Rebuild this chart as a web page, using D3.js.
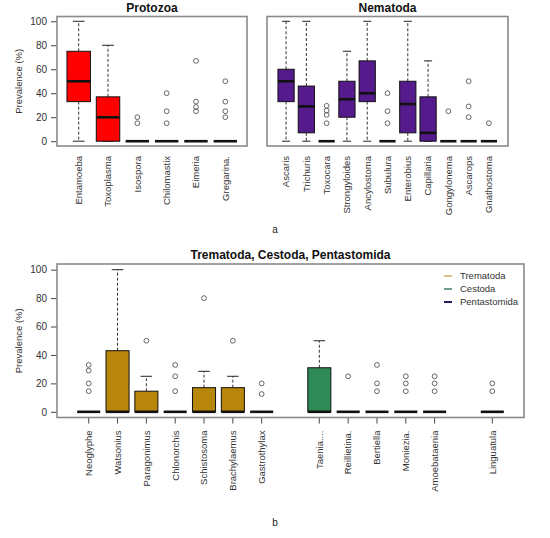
<!DOCTYPE html>
<html>
<head>
<meta charset="utf-8">
<script src="https://cdn.jsdelivr.net/npm/d3@7"></script>
<style>
  body { margin: 0; background: #fff; }
  text { font-family: "Liberation Sans", Arial, sans-serif; }
</style>
</head>
<body>
<svg id="chart" width="550" height="538"></svg>
<script>
// Box stats are [lower whisker, Q1, median, Q3, upper whisker]
const protozoaNames = ["Entamoeba", "Toxoplasma", "Isospora", "Chilomastix", "Eimeria", "Gregarina."];
const protozoaStats = [[0, 33, 50, 75, 100], [0, 0, 20, 37, 80], [0, 0, 0, 0, 0], [0, 0, 0, 0, 0], [0, 0, 0, 0, 0], [0, 0, 0, 0, 0]];
const protozoaOut = [[], [], [15, 20], [15, 25, 40], [25, 28.5, 33, 67], [20, 25, 33, 50]];

const nematodaNames = ["Ascaris", "Trichuris", "Toxocara", "Strongyloides", "Ancylostoma", "Subulura", "Enterobius", "Capillaria", "Gongylonema", "Ascarops", "Gnathostoma"];
const nematodaStats = [[0, 33, 50, 60, 100], [0, 7, 29, 46, 100], [0, 0, 0, 0, 0], [0, 20, 35, 50, 75], [0, 33, 40, 67, 100], [0, 0, 0, 0, 0], [0, 7, 31, 50, 100], [0, 0, 7, 37, 67], [0, 0, 0, 0, 0], [0, 0, 0, 0, 0], [0, 0, 0, 0, 0]];
const nematodaOut = [[], [], [15, 22, 25.5, 29.5], [], [], [15, 25, 40], [], [], [25], [20, 29, 50], [15]];

const trematodaNames = ["Neoglyphe", "Watsonius", "Paragonimus", "Chlonorchis", "Schistosoma", "Brachylaemus", "Gastrothylax"];
const trematodaStats = [[0, 0, 0, 0, 0], [0, 0, 0, 43, 100], [0, 0, 0, 14.5, 25], [0, 0, 0, 0, 0], [0, 0, 0, 17, 28.5], [0, 0, 0, 17, 25], [0, 0, 0, 0, 0]];
const trematodaOut = [[14.5, 20, 29, 33], [], [50], [14.5, 25, 33], [80], [50], [12.5, 20]];

const cestodaNames = ["Taenia....", "Reillietina.", "Bertiella", "Moniezia.", "Amoebataenia"];
const cestodaStats = [[0, 0, 0, 31, 50], [0, 0, 0, 0, 0], [0, 0, 0, 0, 0], [0, 0, 0, 0, 0], [0, 0, 0, 0, 0]];
const cestodaOut = [[], [25], [14.5, 20, 33], [14.5, 20, 25], [14.5, 20, 25]];

const pentaNames = ["Linguatula"];
const pentaStats = [[0, 0, 0, 0, 0]];
const pentaOut = [[14.5, 20]];

const yTicks = [0, 20, 40, 60, 80, 100];
const legendLabels = ["Trematoda", "Cestoda", "Pentastomida"];
const legendColors = ["#d8bf8e", "#6f9e86", "#1c1c5c"];

const svg = d3.select("#chart");

function drawPanel(p) {
  const n = p.slots;
  const x = d3.scaleLinear().domain([0.5 - 0.04 * n, n + 0.5 + 0.04 * n]).range([p.left, p.right]);
  const y = d3.scaleLinear().domain([-4, 104]).range([p.bottom, p.top]);
  const g = svg.append("g");
  const bw = (x(1) - x(0)) * 0.8;

  // title
  g.append("text")
    .attr("x", (p.left + p.right) / 2).attr("y", p.titleY)
    .attr("text-anchor", "middle").attr("font-weight", "bold")
    .attr("font-size", "12px").attr("fill", "#111")
    .text(p.title);

  // y axis
  if (p.yAxis) {
    const ax = g.append("g")
      .attr("transform", `translate(${p.left},0)`)
      .call(d3.axisLeft(y).tickValues(yTicks).tickSize(6).tickPadding(4));
    ax.select(".domain").remove();
    ax.selectAll("line").attr("stroke", "#444");
    ax.selectAll("text").attr("font-size", "10px").attr("fill", "#333")
      .style("font-family", "'Liberation Sans', Arial, sans-serif");
    g.append("text")
      .attr("transform", `translate(22,${(p.top + p.bottom) / 2}) rotate(-90)`)
      .attr("text-anchor", "middle").attr("font-size", "9.5px").attr("fill", "#333")
      .text("Prevalence (%)");
  }

  p.items.forEach(d => {
    const cx = x(d.pos);
    const [lo, q1, med, q3, hi] = d.stats;
    // whiskers
    g.append("line").attr("x1", cx).attr("x2", cx).attr("y1", y(q3)).attr("y2", y(hi))
      .attr("stroke", "#333").attr("stroke-dasharray", "3,2");
    g.append("line").attr("x1", cx).attr("x2", cx).attr("y1", y(q1)).attr("y2", y(lo))
      .attr("stroke", "#333").attr("stroke-dasharray", "3,2");
    [lo, hi].forEach(v => {
      g.append("line").attr("x1", cx - bw / 4).attr("x2", cx + bw / 4)
        .attr("y1", y(v)).attr("y2", y(v)).attr("stroke", "#222");
    });
    // box
    g.append("rect").attr("x", cx - bw / 2).attr("width", bw)
      .attr("y", y(q3)).attr("height", Math.max(0, y(q1) - y(q3)))
      .attr("fill", d.color).attr("stroke", "#111").attr("stroke-width", 1);
    // median
    g.append("line").attr("x1", cx - bw / 2).attr("x2", cx + bw / 2)
      .attr("y1", y(med)).attr("y2", y(med)).attr("stroke", "#111").attr("stroke-width", 2.6);
    // outliers
    g.selectAll(null).data(d.out).enter().append("circle")
      .attr("cx", cx).attr("cy", v => y(v)).attr("r", 2.4)
      .attr("fill", "none").attr("stroke", "#555").attr("stroke-width", 0.9);
    // x label
    g.append("text")
      .attr("transform", `translate(${cx},${p.labelY}) rotate(-90)`)
      .attr("text-anchor", "end").attr("dy", "0.35em")
      .attr("font-size", "9.5px").attr("fill", "#333")
      .text(d.name);
    if (p.xTicks) {
      g.append("line").attr("x1", cx).attr("x2", cx)
        .attr("y1", p.bottom).attr("y2", p.bottom + 6).attr("stroke", "#444");
    }
  });

  // frame
  g.append("rect").attr("x", p.left).attr("y", p.top)
    .attr("width", p.right - p.left).attr("height", p.bottom - p.top)
    .attr("fill", "none").attr("stroke", "#8a8a8a").attr("stroke-width", 1.6);
  return g;
}

function makeItems(names, stats, outs, color, offset) {
  return names.map((name, i) => ({ name, stats: stats[i], out: outs[i], color, pos: offset + i + 1 }));
}

drawPanel({
  title: "Protozoa", titleY: 12, left: 57, right: 247, top: 16.5, bottom: 146,
  slots: protozoaNames.length, yAxis: true, xTicks: false, labelY: 156,
  items: makeItems(protozoaNames, protozoaStats, protozoaOut, "#ff0000", 0)
});

drawPanel({
  title: "Nematoda", titleY: 12, left: 267, right: 508, top: 16.5, bottom: 146,
  slots: nematodaNames.length, yAxis: false, xTicks: false, labelY: 156,
  items: makeItems(nematodaNames, nematodaStats, nematodaOut, "#551a8b", 0)
});

const bottomItems = []
  .concat(makeItems(trematodaNames, trematodaStats, trematodaOut, "#b8860b", 0))
  .concat(makeItems(cestodaNames, cestodaStats, cestodaOut, "#2e8b57", trematodaNames.length + 1))
  .concat(makeItems(pentaNames, pentaStats, pentaOut, "#191970", trematodaNames.length + cestodaNames.length + 2));

const gb = drawPanel({
  title: "Trematoda, Cestoda, Pentastomida", titleY: 258.5, left: 57, right: 524, top: 264, bottom: 417.5,
  slots: trematodaNames.length + cestodaNames.length + pentaNames.length + 2,
  yAxis: true, xTicks: true, labelY: 430.5, items: bottomItems
});

// legend
legendLabels.forEach((lab, i) => {
  const ly = 276 + i * 13;
  gb.append("line").attr("x1", 444).attr("x2", 452).attr("y1", ly).attr("y2", ly)
    .attr("stroke", legendColors[i]).attr("stroke-width", 2);
  gb.append("text").attr("x", 460).attr("y", ly).attr("dy", "0.35em")
    .attr("font-size", "9.5px").attr("fill", "#333").text(lab);
});

// panel letters
svg.append("text").attr("x", 275).attr("y", 233).attr("text-anchor", "middle")
  .attr("font-size", "10px").attr("fill", "#222").text("a");
svg.append("text").attr("x", 275).attr("y", 526).attr("text-anchor", "middle")
  .attr("font-size", "10px").attr("fill", "#222").text("b");
</script>
</body>
</html>
